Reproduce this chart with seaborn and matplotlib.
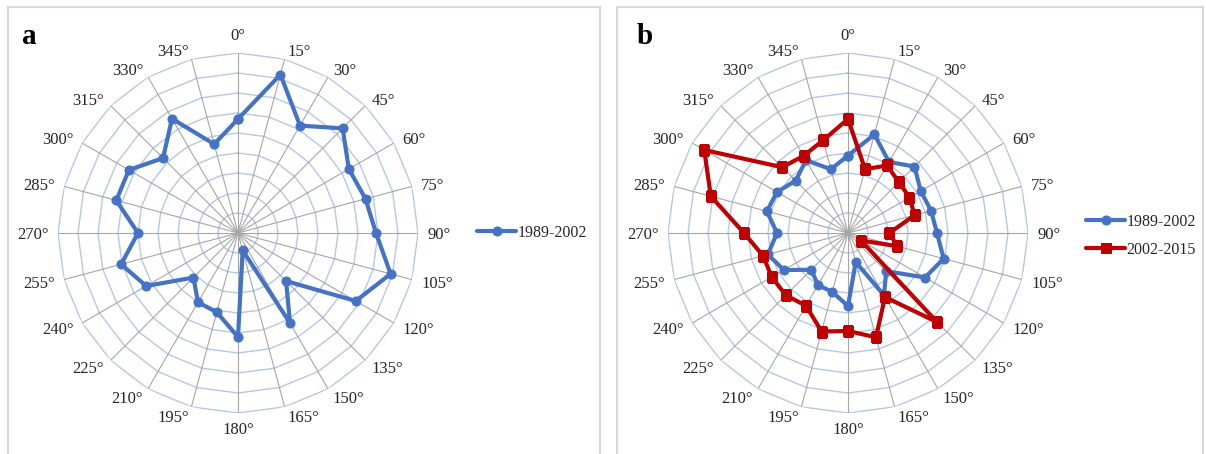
import numpy as np
import matplotlib
matplotlib.use("Agg")
import matplotlib.pyplot as plt
from matplotlib.patches import Rectangle
import seaborn as sns

sns.set_style("white")
plt.rcParams['font.family'] = ['Liberation Serif', 'DejaVu Serif']

# ---- data ----
directions = list(range(0, 360, 15))
dir_labels = [f"{d}°" for d in directions]
series_a_name = "1989-2002"
series_b_name = "2002-2015"
panel_a_1989 = [5.7, 8.2, 6.2, 7.4, 6.4, 6.6, 6.9, 7.9, 6.8, 3.4, 5.2, 0.9,
                5.2, 4.1, 4.0, 3.15, 5.3, 6.05, 5.0, 6.3, 6.3, 5.3, 6.6, 4.6]
panel_b_1989 = [3.87, 5.1, 4.1, 4.7, 4.2, 4.3, 4.45, 4.95, 4.45, 2.7, 3.6, 1.5,
                3.65, 3.05, 3.0, 2.6, 3.7, 4.15, 3.55, 4.2, 4.1, 3.7, 4.2, 3.3]
panel_b_2002 = [5.7, 3.3, 3.9, 3.6, 3.55, 3.45, 2.07, 2.55, 0.75, 6.3, 3.7, 5.4,
                4.9, 5.1, 4.2, 4.4, 4.4, 4.4, 5.2, 7.1, 8.3, 4.65, 4.45, 4.8]
ring_levels = list(range(1, 10))
panel_letters = ["a", "b"]

BLUE = "#4472C4"
RED = "#C00000"
RING = "#B4C7E7"
SPOKE = "#A6A6A6"
BORDER = "#D9D9D9"

W, H = 1206, 454
fig = plt.figure(figsize=(W / 100, H / 100), dpi=100)

# panel borders
for x0, x1 in [(8, 600), (617, 1203)]:
    fig.patches.append(Rectangle((x0 / W, -0.05), (x1 - x0) / W, (H - 7) / H + 0.05,
                                 transform=fig.transFigure, fill=False,
                                 edgecolor=BORDER, linewidth=1.5))

theta = np.deg2rad(directions)
theta_closed = np.append(theta, theta[0] + 2 * np.pi)
rmax = 9
GAP_PT = 6.8


def setup_axes(cx):
    R = 180
    cy = 233
    ax = fig.add_axes([(cx - R) / W, (H - cy - R) / H, 2 * R / W, 2 * R / H],
                      projection='polar')
    ax.set_theta_zero_location('N')
    ax.set_theta_direction(-1)
    ax.set_ylim(0, rmax)
    ax.set_xticks([])
    ax.set_yticks([])
    ax.grid(False)
    ax.spines['polar'].set_visible(False)
    ax.set_facecolor('none')
    # polygon rings
    for lvl in ring_levels:
        ax.plot(theta_closed, [lvl] * len(theta_closed), color=RING,
                linewidth=1.0, zorder=1)
    # spokes
    for t in theta:
        ax.plot([t, t], [0, rmax], color=SPOKE, linewidth=0.8, zorder=1)
    # direction labels
    for d, t, lab in zip(directions, theta, dir_labels):
        if d == 0:
            ha, va = 'center', 'bottom'
        elif d == 180:
            ha, va = 'center', 'top'
        elif d < 180:
            ha, va = 'left', 'center_baseline'
        else:
            ha, va = 'right', 'center_baseline'
        ax.annotate(lab, xy=(t, rmax), xytext=(GAP_PT * np.sin(t), GAP_PT * np.cos(t)),
                    textcoords='offset points', ha=ha, va=va, fontsize=12,
                    color='#262626', zorder=3, annotation_clip=False)
    return ax


def draw_series(ax, vals, color, marker, label, ms):
    v = np.append(vals, vals[0])
    sns.lineplot(x=theta_closed, y=v, sort=False, estimator=None, ax=ax,
                 color=color, marker=marker, markersize=ms,
                 markeredgecolor=color, markerfacecolor=color,
                 linewidth=3.0, label=label, zorder=4)


# panel a
ax_a = setup_axes(238)
draw_series(ax_a, panel_a_1989, BLUE, 'o', series_a_name, 6.5)
ax_a.legend(loc='center left', bbox_to_anchor=(471 / W, (H - 233) / H),
            bbox_transform=fig.transFigure, frameon=False, fontsize=11.5,
            handlelength=2.4, handletextpad=0.1, borderaxespad=0)
ax_a.set_xlabel("")
ax_a.set_ylabel("")

# panel b
ax_b = setup_axes(848)
draw_series(ax_b, panel_b_1989, BLUE, 'o', series_a_name, 6.5)
draw_series(ax_b, panel_b_2002, RED, 's', series_b_name, 6.5)
ax_b.legend(loc='center left', bbox_to_anchor=(1080 / W, (H - 236) / H),
            bbox_transform=fig.transFigure, frameon=False, fontsize=11.5,
            handlelength=2.4, handletextpad=0.1, labelspacing=0.75,
            borderaxespad=0)
ax_b.set_xlabel("")
ax_b.set_ylabel("")

# panel letters
fig.text(22 / W, 1 - 44 / H, panel_letters[0], fontsize=21, fontweight='bold',
         ha='left', va='baseline', color='black')
fig.text(637 / W, 1 - 44 / H, panel_letters[1], fontsize=21, fontweight='bold',
         ha='left', va='baseline', color='black')

fig.savefig("out.png", dpi=100, facecolor='white')
